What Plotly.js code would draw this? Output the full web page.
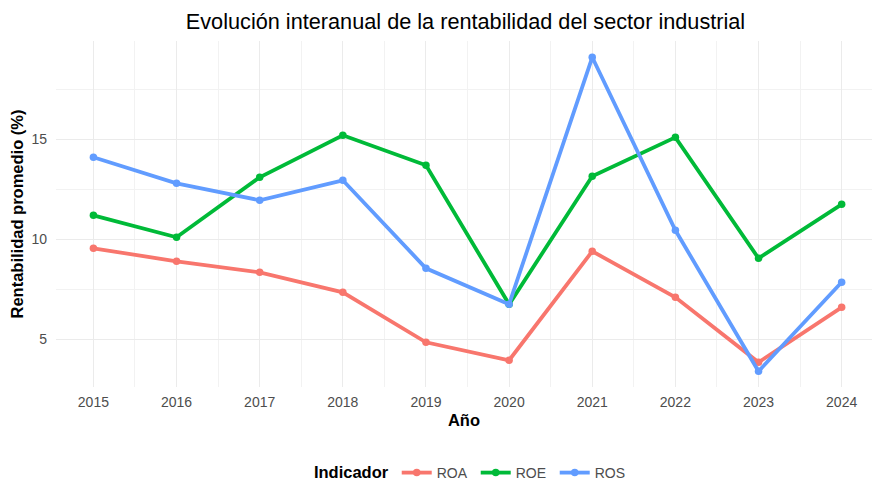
<!DOCTYPE html>
<html>
<head>
<meta charset="utf-8">
<script src="https://cdn.plot.ly/plotly-3.0.1.min.js"></script>
<style>html,body{margin:0;padding:0;background:#fff;}#chart{width:872px;height:481px;}</style>
</head>
<body>
<div id="chart"></div>
<script>
const years = [2015, 2016, 2017, 2018, 2019, 2020, 2021, 2022, 2023, 2024];
const roa = [9.55, 8.9, 8.35, 7.35, 4.85, 3.95, 9.4, 7.1, 3.85, 6.6];
const roe = [11.2, 10.1, 13.1, 15.2, 13.7, 6.75, 13.15, 15.1, 9.05, 11.75];
const ros = [14.1, 12.8, 11.95, 12.95, 8.55, 6.75, 19.1, 10.45, 3.4, 7.85];
const seriesNames = ["ROA", "ROE", "ROS"];
const seriesColors = ["#F8766D", "#00BA38", "#619CFF"];
const seriesValues = [roa, roe, ros];
const halfYears = [2014.5, 2015.5, 2016.5, 2017.5, 2018.5, 2019.5, 2020.5, 2021.5, 2022.5, 2023.5];

const traces = seriesNames.map((n, i) => ({
  x: years, y: seriesValues[i], name: n, type: "scatter", mode: "lines+markers",
  line: {color: seriesColors[i], width: 3.8},
  marker: {color: seriesColors[i], size: 7.5}
}));

const font = "Liberation Sans, Arial, sans-serif";
const layout = {
  width: 872, height: 481,
  margin: {l: 56, r: 0, t: 41, b: 94, autoexpand: false},
  paper_bgcolor: "#fff", plot_bgcolor: "#fff",
  font: {family: font, color: "#4d4d4d", size: 14},
  title: {text: "Evolución interanual de la rentabilidad del sector industrial",
    font: {family: font, size: 21.7, color: "#000"}, x: 465.5/872, xanchor: "center",
    y: 1 - 21/481, yanchor: "middle"},
  xaxis: {
    range: [2014.55, 2024.365], tickvals: years, ticktext: years.map(String),
    showgrid: true, gridcolor: "#ebebeb", gridwidth: 1, zeroline: false, showline: false,
    minor: {tickvals: halfYears, showgrid: true, gridcolor: "#f2f2f2", gridwidth: 1},
    ticks: "", ticklabelstandoff: 5,
    tickfont: {family: font, size: 14, color: "#4d4d4d"},
    title: {text: "<b>Año</b>", font: {family: font, size: 16.5, color: "#000"}, standoff: 5}
  },
  yaxis: {
    range: [2.615, 19.915], tickvals: [5, 10, 15],
    showgrid: true, gridcolor: "#ebebeb", gridwidth: 1, zeroline: false, showline: false,
    minor: {tickvals: [7.5, 12.5, 17.5], showgrid: true, gridcolor: "#f2f2f2", gridwidth: 1},
    ticks: "", ticklabelstandoff: 8,
    tickfont: {family: font, size: 14, color: "#4d4d4d"},
    title: {text: "<b>Rentabilidad promedio (%)</b>", font: {family: font, size: 16.5, color: "#000"}, standoff: 3}
  },
  showlegend: true,
  legend: {
    orientation: "h", x: 445.5/872, xanchor: "center", y: -(473 - 387) / 346, yanchor: "middle",
    title: {text: "<b>Indicador</b>", font: {family: font, size: 16.5, color: "#000"}, side: "left"},
    font: {family: font, size: 14, color: "#4d4d4d"},
    itemwidth: 30, entrywidth: 34, entrywidthmode: "pixels", tracegroupgap: 0
  }
};
Plotly.newPlot("chart", traces, layout, {displayModeBar: false, staticPlot: true});
</script>
</body>
</html>
